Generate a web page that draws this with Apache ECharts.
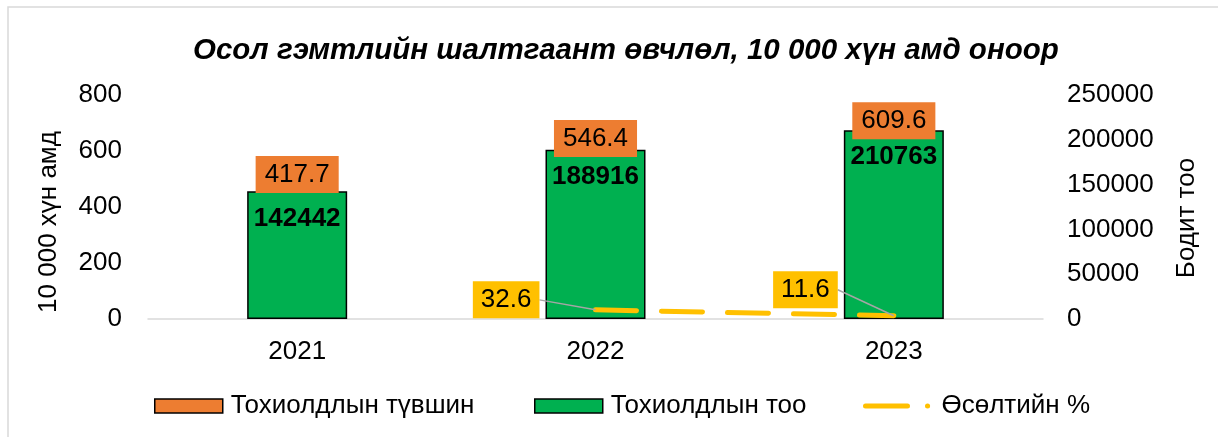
<!DOCTYPE html>
<html>
<head>
<meta charset="utf-8">
<script src="https://cdn.jsdelivr.net/npm/echarts@6/dist/echarts.min.js"></script>
<style>
html,body{margin:0;padding:0;background:#fff;}
#chart{width:1218px;height:437px;}
</style>
</head>
<body>
<div id="chart"></div>
<script>
const categories = ['2021', '2022', '2023'];
const rateValues = [417.7, 546.4, 609.6];      // Тохиолдлын түвшин (10 000 хүн амд)
const countValues = [142442, 188916, 210763];  // Тохиолдлын тоо (бодит тоо)
const growthValues = [null, 32.6, 11.6];        // Өсөлтийн %
const leftTicks = { min: 0, max: 800, interval: 200 };
const rightTicks = { min: 0, max: 250000, interval: 50000 };

const FONT = "'Liberation Sans', Arial, sans-serif";
const FS = 26;
const growthLabelDy = [0, -10, -26];

const legendBase = {
  bottom: 13,
  itemWidth: 68,
  itemHeight: 14,
  textStyle: { fontFamily: FONT, fontSize: FS, color: '#000', padding: [0, 0, 0, 3] }
};

const chart = echarts.init(document.getElementById('chart'), null, { renderer: 'canvas' });

chart.setOption({
  animation: false,
  backgroundColor: '#fff',
  textStyle: { fontFamily: FONT },
  graphic: [{
    type: 'rect', silent: true, z: -10,
    shape: { x: 8, y: 7, width: 1230, height: 440 },
    style: { fill: 'none', stroke: '#d9d9d9', lineWidth: 1.5 }
  }],
  title: {
    text: 'Осол гэмтлийн шалтгаант өвчлөл, 10 000 хүн амд оноор',
    left: 188,
    top: 31,
    textStyle: { fontFamily: FONT, fontSize: 29.5, fontWeight: 'bold', fontStyle: 'italic', color: '#000' }
  },
  legend: [
    Object.assign({}, legendBase, {
      left: 149,
      data: [{ name: 'Тохиолдлын түвшин', icon: 'rect', itemStyle: { color: '#ED7D31', borderColor: '#000', borderWidth: 1.5 } }]
    }),
    Object.assign({}, legendBase, {
      left: 529,
      data: [{ name: 'Тохиолдлын тоо', icon: 'rect', itemStyle: { color: '#00B050', borderColor: '#000', borderWidth: 1.5 } }]
    }),
    Object.assign({}, legendBase, {
      left: 858,
      data: [{ name: 'Өсөлтийн %', itemStyle: { color: 'rgba(255,192,0,0)', borderWidth: 0 }, lineStyle: { color: '#FFC000', width: 5, type: [42, 20, 0.1, 100], cap: 'round' } }]
    })
  ],
  grid: { left: 148, right: 175, top: 95, bottom: 118 },
  xAxis: {
    type: 'category',
    data: categories,
    axisLine: { lineStyle: { color: '#d9d9d9', width: 1.5 } },
    axisTick: { show: false },
    axisLabel: { fontFamily: FONT, fontSize: FS, color: '#000', margin: 20 }
  },
  yAxis: [{
    type: 'value',
    min: leftTicks.min, max: leftTicks.max, interval: leftTicks.interval,
    name: '10 000 хүн амд',
    nameLocation: 'middle',
    nameRotate: 90,
    nameGap: 86,
    nameTextStyle: { fontFamily: FONT, fontSize: FS, color: '#000', padding: [0, 30, 0, 0] },
    axisLine: { show: false },
    axisTick: { show: false },
    splitLine: { show: false },
    axisLabel: { fontFamily: FONT, fontSize: FS, color: '#000', margin: 26 }
  }, {
    type: 'value',
    min: rightTicks.min, max: rightTicks.max, interval: rightTicks.interval,
    name: 'Бодит тоо',
    nameLocation: 'middle',
    nameRotate: 90,
    nameGap: 131,
    nameTextStyle: { fontFamily: FONT, fontSize: FS, color: '#000', padding: [0, 22, 0, 0] },
    axisLine: { show: false },
    axisTick: { show: false },
    splitLine: { show: false },
    axisLabel: { fontFamily: FONT, fontSize: FS, color: '#000', margin: 24, formatter: v => String(v) }
  }],
  series: [{
    name: 'Тохиолдлын тоо',
    type: 'bar',
    yAxisIndex: 1,
    data: countValues,
    barWidth: 100,
    z: 2,
    itemStyle: { color: '#00B050', borderColor: '#000', borderWidth: 1.5 },
    label: {
      show: true, position: 'insideTop', distance: 14,
      fontFamily: FONT, fontSize: FS, fontWeight: 'bold', color: '#000',
      formatter: p => String(p.value)
    }
  }, {
    name: 'Тохиолдлын түвшин',
    type: 'bar',
    yAxisIndex: 0,
    data: rateValues,
    barWidth: 100,
    barGap: '-100%',
    z: 3,
    itemStyle: { color: 'rgba(237,125,49,0)' },
    label: {
      show: true, position: 'top', distance: 9,
      fontFamily: FONT, fontSize: FS, color: '#000',
      backgroundColor: '#ED7D31', padding: [6, 9, 5, 9],
      formatter: p => p.value.toFixed(1)
    }
  }, {
    name: 'Өсөлтийн %',
    type: 'line',
    yAxisIndex: 0,
    data: growthValues,
    symbol: 'circle',
    symbolSize: 0.1,
    showSymbol: true,
    z: 4,
    itemStyle: { color: '#FFC000' },
    lineStyle: { color: '#FFC000', width: 5, type: [41, 25], cap: 'round' },
    label: {
      show: true, position: 'left', distance: 56,
      fontFamily: FONT, fontSize: FS, color: '#000',
      backgroundColor: '#FFC000', padding: [6, 8, 5, 8],
      formatter: p => p.value.toFixed(1)
    },
    labelLine: { show: true, lineStyle: { color: '#a6a6a6', width: 1.5 } },
    labelLayout: p => ({ dy: growthLabelDy[p.dataIndex] || 0 })
  }]
});
</script>
</body>
</html>
